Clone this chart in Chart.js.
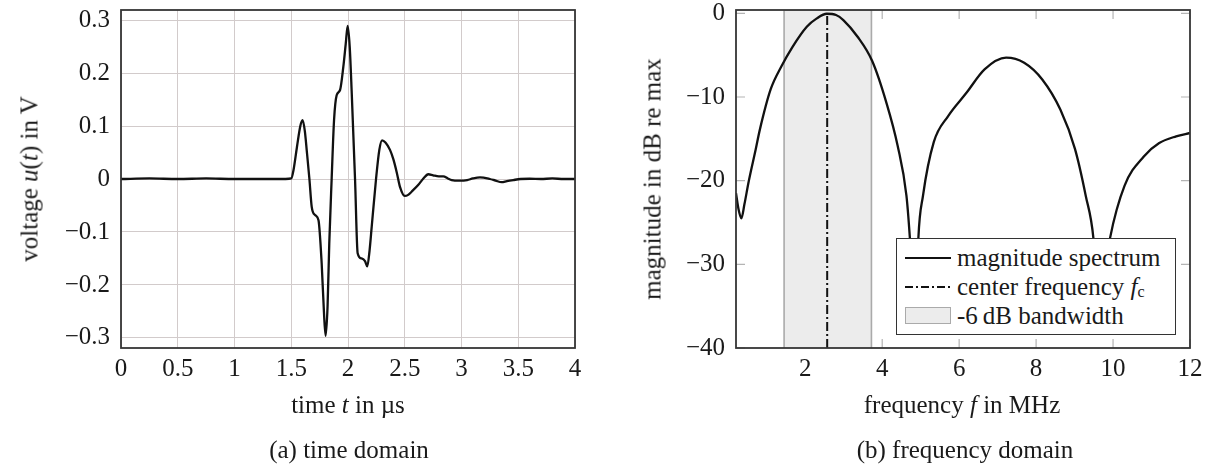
<!DOCTYPE html>
<html>
<head>
<meta charset="utf-8">
<script src="https://cdn.jsdelivr.net/npm/chart.js@4"></script>
<style>
  html, body { margin: 0; padding: 0; background: #fff; }
  body { width: 1213px; height: 471px; position: relative; overflow: hidden;
         font-family: 'Liberation Serif', serif; color: #1a1a1a; }
  .box { position: absolute; top: 0; height: 420px; }
  #boxTime { left: 0; width: 600px; }
  #boxFreq { left: 600px; width: 613px; }
  .lbl { position: absolute; font-size: 25px; line-height: 1; white-space: nowrap;
         transform: translate(-50%, -50%); }
  .rot { transform: translate(-50%, -50%) rotate(-90deg); }
  #legend { position: absolute; left: 896px; top: 238px; width: 280px; height: 97px;
            box-sizing: border-box; border: 1.6px solid #333; background: #fff;
            padding: 4px 0 0 8px; z-index: 5; font-size: 25px; }
  #legend .row { height: 29px; display: flex; align-items: center; white-space: nowrap; }
  #legend svg, #legend .swatch { margin-right: 6px; flex: none; }
  #legend .swatch { width: 44px; height: 15px; background: #ececec; border: 1.5px solid #aaa; }
  sub { font-size: 16px; line-height: 0; position: relative; top: 2px; vertical-align: baseline; }
</style>
</head>
<body>
<div class="box" id="boxTime"><canvas id="timeChart"></canvas></div>
<div class="box" id="boxFreq"><canvas id="freqChart"></canvas></div>

<div class="lbl rot" style="left:29px; top:179px;">voltage <i>u</i>(<i>t</i>) in V</div>
<div class="lbl" style="left:348px; top:404px;">time <i>t</i> in µs</div>
<div class="lbl" style="left:349px; top:449px;">(a) time domain</div>

<div class="lbl rot" style="left:652px; top:179px;">magnitude in dB re max</div>
<div class="lbl" style="left:962px; top:404px;">frequency <i>f</i> in MHz</div>
<div class="lbl" style="left:965px; top:449px;">(b) frequency domain</div>

<div id="legend">
  <div class="row"><svg width="46" height="10"><line x1="0" y1="5" x2="46" y2="5" stroke="#111" stroke-width="2"/></svg><span>magnitude spectrum</span></div>
  <div class="row"><svg width="46" height="10"><line x1="0" y1="5" x2="46" y2="5" stroke="#111" stroke-width="2" stroke-dasharray="8 3 2 3"/></svg><span>center frequency <i>f</i><sub>c</sub></span></div>
  <div class="row"><span class="swatch"></span><span>-6&#8201;dB bandwidth</span></div>
</div>

<script>
// --- time domain data ---
const timeUs = [0, 0.25, 0.5, 0.75, 1.0, 1.25, 1.45, 1.5, 1.52, 1.55, 1.58, 1.6, 1.62, 1.636, 1.66, 1.68,
  1.71, 1.74, 1.768, 1.79, 1.803, 1.82, 1.835, 1.856, 1.877, 1.9, 1.93, 1.959, 1.98, 1.997, 2.015, 2.033,
  2.062, 2.085, 2.12, 2.15, 2.17, 2.19, 2.209, 2.247, 2.276, 2.3, 2.33, 2.37, 2.4, 2.43, 2.458, 2.5, 2.53,
  2.56, 2.62, 2.664, 2.708, 2.75, 2.8, 2.84, 2.88, 2.914, 2.98, 3.05, 3.1, 3.163, 3.25, 3.3, 3.354, 3.4,
  3.456, 3.52, 3.6, 3.7, 3.8, 3.9, 4.0];
const voltageV = [0, 0.001, 0, 0.001, 0, 0, 0, 0.001, 0.017, 0.06, 0.1, 0.111, 0.09, 0.055, 0, -0.052,
  -0.068, -0.078, -0.159, -0.26, -0.296, -0.24, -0.121, 0, 0.111, 0.158, 0.168, 0.212, 0.255, 0.289, 0.25, 0.162,
  0, -0.14, -0.15, -0.155, -0.165, -0.135, -0.09, 0, 0.055, 0.073, 0.069, 0.055, 0.037, 0.012, -0.015, -0.032, -0.03,
  -0.024, -0.011, 0.001, 0.009, 0.007, 0.005, 0.005, 0.001, -0.002, -0.003, -0.002, 0.001, 0.003, 0, -0.003, -0.006, -0.004,
  -0.002, 0, 0.0005, 0, 0.001, 0, 0];
const timeTicks = [0, 0.5, 1, 1.5, 2, 2.5, 3, 3.5, 4];
const voltTicks = [-0.3, -0.2, -0.1, 0, 0.1, 0.2, 0.3];
const timeRange = [0, 4];
const voltRange = [-0.319, 0.319];

// --- frequency domain data ---
const freqMHz = [0.2, 0.27, 0.34, 0.42, 0.53, 0.71, 0.82, 1.1, 1.385, 1.67, 2.04, 2.3, 2.56, 2.8, 2.99, 3.36,
  3.74, 4.11, 4.4, 4.63, 4.72, 4.8, 4.85, 4.9, 4.94, 5.06, 5.34, 5.71, 6.19, 6.66, 7.22, 7.69, 8.16, 8.63,
  9.01, 9.29, 9.49, 9.58, 9.65, 9.75, 9.92, 10.3, 10.8, 11.2, 11.64, 12];
const magnitudeDb = [-21.5, -23.5, -24.5, -22.8, -20.1, -16.3, -13.9, -9.1, -6.3, -4.0, -1.6, -0.6, -0.05, -0.2, -0.8, -2.8,
  -5.7, -10.7, -15.8, -21.8, -26.9, -33, -38, -33, -26.9, -21.8, -15.4, -12.3, -9.5, -6.7, -5.3, -5.9, -7.9, -11.5,
  -16.2, -21.8, -26.9, -33, -36, -32, -26.9, -20.6, -17.1, -15.5, -14.7, -14.3];
const freqTicks = [2, 4, 6, 8, 10, 12];
const dbTicks = [-40, -30, -20, -10, 0];
const bandwidthMHz = [1.45, 3.72];
const centerFreqMHz = [2.57];
const freqRange = [0.2, 12];
const dbRange = [-40, 0.4];

const FONT = { family: 'Liberation Serif', size: 25 };
const INK = '#1a1a1a';

const fmt = v => String(v).replace('-', '\u2212');

// frame round the plot area
const framePlugin = {
  id: 'frame',
  afterDatasetsDraw(chart) {
    const { ctx, chartArea: a } = chart;
    ctx.save();
    ctx.strokeStyle = '#363636';
    ctx.lineWidth = 1.8;
    ctx.strokeRect(a.left, a.top, a.right - a.left, a.bottom - a.top);
    ctx.restore();
  }
};

// short ticks pointing into the plot on all four sides
const innerTicksPlugin = {
  id: 'innerTicks',
  beforeDatasetsDraw(chart) {
    const { ctx, chartArea: a, scales: { x, y } } = chart;
    const L = 9;
    ctx.save();
    ctx.strokeStyle = '#b4b4b4';
    ctx.lineWidth = 1.2;
    ctx.beginPath();
    x.ticks.forEach(t => {
      const px = x.getPixelForValue(t.value);
      ctx.moveTo(px, a.bottom); ctx.lineTo(px, a.bottom - L);
      ctx.moveTo(px, a.top); ctx.lineTo(px, a.top + L);
    });
    y.ticks.forEach(t => {
      const py = y.getPixelForValue(t.value);
      ctx.moveTo(a.left, py); ctx.lineTo(a.left + L, py);
      ctx.moveTo(a.right, py); ctx.lineTo(a.right - L, py);
    });
    ctx.stroke();
    ctx.restore();
  }
};

function makeAxis(range, tickVals, isX, size, showGrid) {
  return {
    type: 'linear',
    min: range[0],
    max: range[1],
    afterBuildTicks: s => { s.ticks = tickVals.map(v => ({ value: v })); },
    afterFit: s => {
      if (isX) { s.height = size; s.paddingLeft = 0; s.paddingRight = 0; }
      else { s.width = size; s.paddingTop = 0; s.paddingBottom = 0; }
    },
    ticks: {
      font: FONT, color: INK, padding: isX ? 6 : 11,
      autoSkip: false, maxRotation: 0,
      callback: v => fmt(v)
    },
    grid: { display: showGrid, drawTicks: false, color: '#d2cbcb', lineWidth: 1 },
    border: { display: false }
  };
}

function baseOptions(padRight) {
  return {
    responsive: true,
    maintainAspectRatio: false,
    animation: false,
    layout: { padding: { left: 0, top: 10, right: padRight, bottom: 0 } },
    plugins: { legend: { display: false }, tooltip: { enabled: false }, title: { display: false } },
    elements: { point: { radius: 0 } }
  };
}

// --- (a) time domain ---
const timeOpts = baseOptions(25);
timeOpts.scales = {
  x: makeAxis(timeRange, timeTicks, true, 72, true),
  y: makeAxis(voltRange, voltTicks, false, 121, true)
};
new Chart(document.getElementById('timeChart'), {
  type: 'line',
  data: {
    datasets: [{
      label: 'u(t)',
      data: timeUs.map((t, i) => ({ x: t, y: voltageV[i] })),
      borderColor: '#111',
      borderWidth: 2.3,
      cubicInterpolationMode: 'monotone',
      fill: false
    }]
  },
  options: timeOpts,
  plugins: [framePlugin]
});

// --- (b) frequency domain ---
const freqOpts = baseOptions(23);
freqOpts.scales = {
  x: makeAxis(freqRange, freqTicks, true, 72, false),
  y: makeAxis(dbRange, dbTicks, false, 136, false)
};
new Chart(document.getElementById('freqChart'), {
  type: 'line',
  data: {
    datasets: [
      {
        label: 'magnitude spectrum',
        data: freqMHz.map((f, i) => ({ x: f, y: magnitudeDb[i] })),
        borderColor: '#111',
        borderWidth: 2.3,
        cubicInterpolationMode: 'monotone',
        fill: false,
        order: 0
      },
      {
        label: 'center frequency',
        data: [{ x: centerFreqMHz[0], y: dbRange[0] }, { x: centerFreqMHz[0], y: 0 }],
        borderColor: '#111',
        borderWidth: 2,
        borderDash: [9, 3, 2, 3],
        fill: false,
        order: 1
      },
      {
        label: '-6 dB bandwidth',
        data: [
          { x: bandwidthMHz[0], y: dbRange[0] }, { x: bandwidthMHz[0], y: dbRange[1] },
          { x: bandwidthMHz[1], y: dbRange[1] }, { x: bandwidthMHz[1], y: dbRange[0] }
        ],
        borderColor: '#aaaaaa',
        borderWidth: 1.6,
        backgroundColor: '#ececec',
        fill: 'start',
        order: 2
      }
    ]
  },
  options: freqOpts,
  plugins: [innerTicksPlugin, framePlugin]
});
</script>
</body>
</html>
